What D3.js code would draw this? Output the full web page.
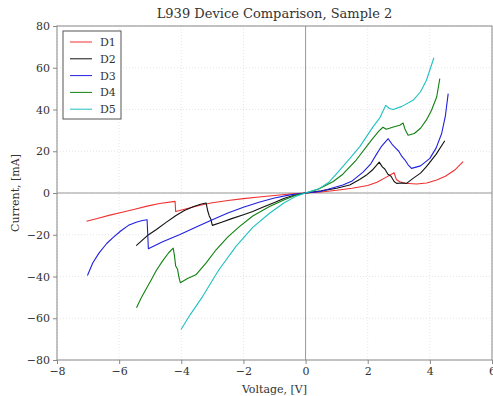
<!DOCTYPE html>
<html>
<head>
<meta charset="utf-8">
<script src="https://cdn.jsdelivr.net/npm/d3@7"></script>
<style>
body { margin: 0; background: #fff; }
svg text { font-family: "DejaVu Serif", serif; fill: #333; }
</style>
</head>
<body>
<svg id="chart" width="493" height="396"></svg>
<script>
// voltage [V], current [mA]
const d1 = [[-7.05,-13.5],[-6.7,-12.2],[-6.3,-10.6],[-5.9,-9.2],[-5.5,-7.8],[-5.1,-6.3],[-4.7,-5.0],[-4.2,-4.0],[-4.18,-8.9],[-3.8,-7.4],[-3.4,-5.9],[-3.0,-4.7],[-2.5,-3.6],[-2.0,-2.7],[-1.5,-1.9],[-1.0,-1.2],[-0.5,-0.5],[0,0],[0.5,0.5],[1.0,1.3],[1.5,2.3],[2.0,3.6],[2.3,5.2],[2.6,7.6],[2.85,9.7],[2.92,6.5],[3.03,5.4],[3.2,4.7],[3.57,4.3],[3.9,4.8],[4.22,6.2],[4.5,8.0],[4.8,11.0],[5.07,15.0]];
const d2 = [[-5.45,-25.2],[-5.1,-20.5],[-4.8,-17.5],[-4.5,-14.2],[-4.17,-10.8],[-3.9,-8.4],[-3.6,-6.5],[-3.35,-5.3],[-3.2,-4.8],[-3.15,-8.5],[-3.1,-11.0],[-3.05,-12.5],[-3.0,-15.5],[-2.7,-14.0],[-2.4,-12.4],[-2.0,-10.4],[-1.7,-8.9],[-1.4,-7.0],[-1.0,-4.6],[-0.7,-2.6],[-0.4,-1.2],[0,0],[0.5,1.0],[1.0,2.3],[1.42,3.8],[1.74,6.5],[1.96,8.6],[2.15,11.0],[2.37,14.8],[2.47,12.5],[2.55,11.5],[2.65,9.0],[2.75,8.0],[2.85,5.5],[2.93,4.6],[3.1,4.8],[3.25,4.6],[3.46,7.0],[3.7,9.5],[3.89,12.6],[4.2,18.5],[4.48,25.0]];
const d3s = [[-7.02,-39.5],[-6.85,-33.5],[-6.65,-28.8],[-6.4,-24.2],[-6.2,-21.4],[-5.95,-18.2],[-5.7,-15.5],[-5.45,-14.0],[-5.25,-13.2],[-5.1,-12.8],[-5.06,-26.7],[-4.6,-23.3],[-4.06,-20.0],[-3.5,-16.2],[-3.0,-12.8],[-2.5,-9.6],[-2.0,-6.8],[-1.5,-4.4],[-1.0,-2.4],[-0.5,-0.9],[0,0],[0.5,0.8],[1.2,3.8],[1.5,5.8],[1.85,10.0],[2.1,14.0],[2.28,18.5],[2.45,22.5],[2.66,26.0],[2.8,23.0],[2.9,21.5],[3.0,20.0],[3.1,17.5],[3.2,15.8],[3.3,13.5],[3.41,11.8],[3.7,13.0],[4.0,16.6],[4.2,21.5],[4.38,28.5],[4.5,37.0],[4.59,47.6]];
const d4 = [[-5.44,-55.0],[-5.3,-50.5],[-5.15,-46.5],[-5.0,-42.5],[-4.8,-37.0],[-4.6,-32.5],[-4.4,-28.5],[-4.26,-26.4],[-4.22,-30.0],[-4.18,-35.0],[-4.12,-36.5],[-4.08,-40.0],[-4.03,-43.0],[-3.8,-41.0],[-3.53,-39.2],[-3.2,-33.5],[-2.88,-27.2],[-2.5,-21.0],[-2.13,-16.1],[-1.7,-11.0],[-1.16,-6.5],[-0.7,-3.3],[-0.3,-1.0],[0,0],[0.4,1.8],[0.88,5.4],[1.2,9.0],[1.63,15.8],[2.12,25.3],[2.35,29.5],[2.49,31.5],[2.6,30.5],[2.8,31.5],[3.03,32.5],[3.14,33.5],[3.2,30.5],[3.3,27.7],[3.5,28.5],[3.7,31.0],[3.89,35.0],[4.05,39.5],[4.22,46.0],[4.32,54.8]];
const d5 = [[-4.01,-65.4],[-3.7,-58.0],[-3.31,-49.5],[-2.8,-37.0],[-2.24,-25.6],[-1.7,-16.5],[-1.16,-9.7],[-0.7,-4.8],[-0.3,-1.5],[0,0],[0.45,2.2],[0.77,5.4],[1.1,11.0],[1.42,16.5],[1.74,22.1],[2.17,31.7],[2.39,36.0],[2.58,42.0],[2.7,40.5],[2.82,40.0],[3.1,41.5],[3.46,44.4],[3.7,48.5],[3.89,54.0],[4.13,64.8]];

const names = ['D1', 'D2', 'D3', 'D4', 'D5'];
const colors = ['#f03030', '#111111', '#2020e0', '#108010', '#20c0c0'];
const series = [d1, d2, d3s, d4, d5];
const xTicks = [-8, -6, -4, -2, 0, 2, 4, 6];
const yTicks = [-80, -60, -40, -20, 0, 20, 40, 60, 80];

const margin = { left: 57, right: 1, top: 26, bottom: 36 };
const W = 493, H = 396;
const w = W - margin.left - margin.right;
const h = H - margin.top - margin.bottom;

const svg = d3.select('#chart');
const g = svg.append('g').attr('transform', 'translate(' + margin.left + ',' + margin.top + ')');

const x = d3.scaleLinear([-8, 6], [0, w]);
const y = d3.scaleLinear([-80, 80], [h, 0]);

// grid
g.append('g').selectAll('line').data(xTicks).enter().append('line')
	.attr('x1', d => x(d)).attr('x2', d => x(d)).attr('y1', 0).attr('y2', h)
	.attr('stroke', '#e6e6e6').attr('stroke-dasharray', '1,2');
g.append('g').selectAll('line').data(yTicks).enter().append('line')
	.attr('y1', d => y(d)).attr('y2', d => y(d)).attr('x1', 0).attr('x2', w)
	.attr('stroke', '#e6e6e6').attr('stroke-dasharray', '1,2');

// zero lines
g.append('line').attr('x1', x(0)).attr('x2', x(0)).attr('y1', 0).attr('y2', h).attr('stroke', '#999');
g.append('line').attr('x1', 0).attr('x2', w).attr('y1', y(0)).attr('y2', y(0)).attr('stroke', '#999');

// curves
const line = d3.line().x(d => x(d[0])).y(d => y(d[1]));
series.forEach((s, i) => {
	g.append('path').datum(s)
		.attr('fill', 'none')
		.attr('stroke', colors[i])
		.attr('stroke-width', 1.1)
		.attr('stroke-linejoin', 'round')
		.attr('d', line);
});

// axes
const fmt = d => d < 0 ? '\u2212' + Math.abs(d) : d;
const xAxis = g.append('g').attr('transform', 'translate(0,' + h + ')')
	.call(d3.axisBottom(x).tickValues(xTicks).tickSize(4).tickPadding(3).tickFormat(fmt));
const yAxis = g.append('g')
	.call(d3.axisLeft(y).tickValues(yTicks).tickSize(4).tickPadding(3).tickFormat(fmt));
[xAxis, yAxis].forEach(a => {
	a.select('.domain').remove();
	a.selectAll('line').attr('stroke', '#888');
	a.selectAll('text').style('font-family', '"DejaVu Serif", serif').style('font-size', '11px').attr('fill', '#333');
});

// frame
g.append('rect').attr('width', w).attr('height', h).attr('fill', 'none').attr('stroke', '#888');

// title and labels
svg.append('text').attr('x', margin.left + w / 2).attr('y', 18).attr('text-anchor', 'middle')
	.style('font-size', '13px').text('L939 Device Comparison, Sample 2');
svg.append('text').attr('x', margin.left + w / 2).attr('y', 393).attr('text-anchor', 'middle')
	.style('font-size', '11px').text('Voltage, [V]');
svg.append('text').attr('transform', 'translate(19,' + (margin.top + h / 2) + ') rotate(-90)')
	.attr('text-anchor', 'middle').style('font-size', '11px').text('Current, [mA]');

// legend
const lg = svg.append('g').attr('transform', 'translate(63,31)');
lg.append('rect').attr('width', 58).attr('height', 88).attr('fill', '#fff').attr('stroke', '#555');
names.forEach((n, i) => {
	const yy = 11 + i * 16.8;
	lg.append('line').attr('x1', 7).attr('x2', 29).attr('y1', yy).attr('y2', yy).attr('stroke', colors[i]);
	lg.append('text').attr('x', 37).attr('y', yy + 4).style('font-size', '11px').text(n);
});
</script>
</body>
</html>
